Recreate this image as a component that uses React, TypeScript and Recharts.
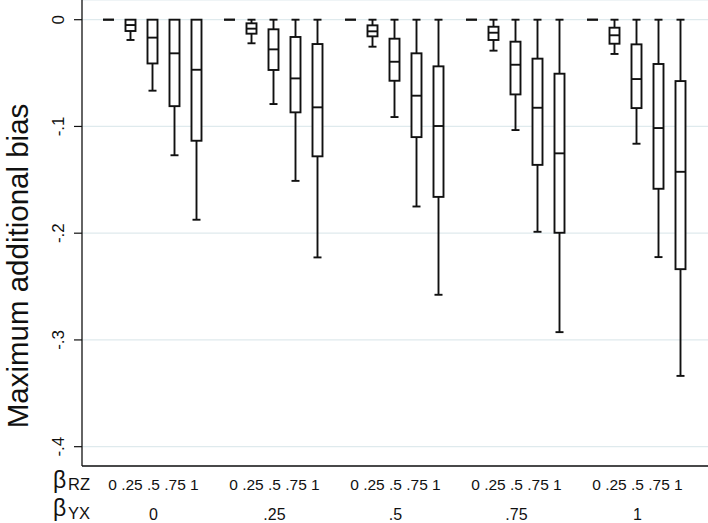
import React from 'react';
import { ComposedChart, Bar, XAxis, YAxis, CartesianGrid } from 'recharts';

// ---- data ----
const betaRZLabels = ['0', '.25', '.5', '.75', '1'];
const betaYXLabels = ['0', '.25', '.5', '.75', '1'];
const yTicks = [0, -0.1, -0.2, -0.3, -0.4];
const yTickLabels = ['0', '-.1', '-.2', '-.3', '-.4'];

// 25 boxes: groups by betaYX, within each group by betaRZ
const whiskerHigh = [
  0, 0, 0, 0, 0,
  0, 0, 0, 0, 0,
  0, 0, 0, 0, 0,
  0, 0, 0, 0, 0,
  0, 0, 0, 0, 0,
];
const upperQuartile = [
  0, 0, 0, 0, 0,
  0, -0.0034, -0.009, -0.0162, -0.0228,
  0, -0.0053, -0.0178, -0.0315, -0.0437,
  0, -0.0066, -0.0206, -0.0365, -0.0506,
  0, -0.0075, -0.0231, -0.0415, -0.0575,
];
const medianValues = [
  0, -0.005, -0.0168, -0.0315, -0.0469,
  0, -0.0084, -0.0278, -0.055, -0.0821,
  0, -0.0109, -0.0394, -0.0712, -0.0996,
  0, -0.0122, -0.0422, -0.0825, -0.1252,
  0, -0.0146, -0.0556, -0.1015, -0.1425,
];
const lowerQuartile = [
  0, -0.0106, -0.041, -0.081, -0.1134,
  0, -0.0131, -0.0471, -0.0868, -0.128,
  0, -0.0156, -0.0572, -0.11, -0.166,
  0, -0.019, -0.07, -0.136, -0.1996,
  0, -0.0225, -0.0828, -0.1584, -0.2337,
];
const whiskerLow = [
  0, -0.019, -0.0665, -0.127, -0.1874,
  0, -0.0221, -0.079, -0.151, -0.2227,
  0, -0.0253, -0.0912, -0.175, -0.2577,
  0, -0.029, -0.1034, -0.1987, -0.2927,
  0, -0.0321, -0.1162, -0.2224, -0.3337,
];

const GROUP_STEP = 5.5;
const rows = [] as any[];
betaYXLabels.forEach((_, g) => {
  betaRZLabels.forEach((__, i) => {
    const k = g * 5 + i;
    rows.push({
      pos: g * GROUP_STEP + i,
      range: [whiskerLow[k], whiskerHigh[k]],
      hi: whiskerHigh[k],
      q3: upperQuartile[k],
      med: medianValues[k],
      q1: lowerQuartile[k],
      lo: whiskerLow[k],
    });
  });
});
const groupCenters = betaYXLabels.map((_, g) => g * GROUP_STEP + 2);

const FONT = '"Liberation Sans", Arial, Helvetica, sans-serif';
const INK = '#111';

function BoxShape(props: any) {
  const { x, y, width, height, payload } = props;
  if (x == null || y == null || !payload) return null;
  const cx = x + width / 2;
  const top = Math.min(y, y + height);
  const h = Math.abs(height);
  const { hi, q3, med, q1, lo } = payload;
  const sw = 1.9;
  if (hi - lo === 0 || h === 0) {
    return <line x1={cx - 5.5} x2={cx + 5.5} y1={top} y2={top} stroke={INK} strokeWidth={2.3} />;
  }
  const k = h / (hi - lo);
  const py = (v: number) => top + (hi - v) * k;
  const half = 5;
  const cap = 4;
  return (
    <g>
      {hi !== q3 && (
        <g>
          <line x1={cx} x2={cx} y1={py(hi)} y2={py(q3)} stroke={INK} strokeWidth={sw} />
          <line x1={cx - cap} x2={cx + cap} y1={py(hi)} y2={py(hi)} stroke={INK} strokeWidth={sw} />
        </g>
      )}
      <line x1={cx} x2={cx} y1={py(q1)} y2={py(lo)} stroke={INK} strokeWidth={sw} />
      <line x1={cx - cap} x2={cx + cap} y1={py(lo)} y2={py(lo)} stroke={INK} strokeWidth={sw} />
      <rect x={cx - half} y={py(q3)} width={half * 2} height={py(q1) - py(q3)} fill="#fff" stroke={INK} strokeWidth={sw} />
      <line x1={cx - half} x2={cx + half} y1={py(med)} y2={py(med)} stroke={INK} strokeWidth={sw} />
    </g>
  );
}

function GroupTick(props: any) {
  const { x, y, index } = props;
  return (
    <g>
      <text x={x + 1} y={y + 23.5} textAnchor="middle" fontFamily={FONT} fontSize={15.5} fill={INK}>
        {betaRZLabels.join(' ')}
      </text>
      <text x={x + 1} y={y + 53.5} textAnchor="middle" fontFamily={FONT} fontSize={16} fill={INK}>
        {betaYXLabels[index]}
      </text>
    </g>
  );
}

function YTick(props: any) {
  const { x, y, payload } = props;
  const idx = yTicks.findIndex((t) => Math.abs(t - payload.value) < 1e-9);
  const tx = x - 8;
  return (
    <text x={tx} y={y} transform={`rotate(-90, ${tx}, ${y})`} textAnchor="middle" fontFamily={FONT} fontSize={17} fill={INK}>
      {idx >= 0 ? yTickLabels[idx] : ''}
    </text>
  );
}

function RowLabels() {
  return (
    <g fontFamily={FONT} fill={INK}>
      <text x={53} y={487.5} fontSize={23}>β</text>
      <text x={68} y={489.5} fontSize={16.5}>RZ</text>
      <text x={53} y={516} fontSize={23}>β</text>
      <text x={68} y={519.3} fontSize={16.5}>YX</text>
    </g>
  );
}

function YTitle() {
  const cy = 266;
  const tx = 28;
  return (
    <text x={tx} y={cy} transform={`rotate(-90, ${tx}, ${cy})`} textAnchor="middle" fontFamily={FONT} fontSize={29.5} fill={INK}>
      Maximum additional bias
    </text>
  );
}

export default function App() {
  return (
    <div style={{ position: 'absolute', left: 0, top: 0, width: 708, height: 523, background: '#fff' }}>
      <ComposedChart width={708} height={523} data={rows} margin={{ top: 0, right: 0, bottom: 0, left: 0 }}>
        <CartesianGrid horizontal={true} vertical={false} stroke="#dfeaed" strokeWidth={1.2} />
        <XAxis
          type="number"
          dataKey="pos"
          domain={[-1.2045, 27.25]}
          ticks={groupCenters}
          allowDataOverflow
          interval={0}
          tick={<GroupTick />}
          tickLine={false}
          tickSize={0}
          tickMargin={0}
          height={57}
          axisLine={{ stroke: INK, strokeWidth: 1.3 }}
          label={{ content: <RowLabels /> } as any}
        />
        <YAxis
          type="number"
          domain={[-0.4181, 0.01845]}
          ticks={yTicks}
          allowDataOverflow
          interval={0}
          width={82}
          tickSize={8}
          tick={<YTick />}
          tickLine={{ stroke: INK, strokeWidth: 1.2 }}
          axisLine={{ stroke: INK, strokeWidth: 1.3 }}
          label={{ content: <YTitle /> } as any}
        />
        <Bar dataKey="range" barSize={10} shape={<BoxShape />} isAnimationActive={false} />
      </ComposedChart>
    </div>
  );
}
